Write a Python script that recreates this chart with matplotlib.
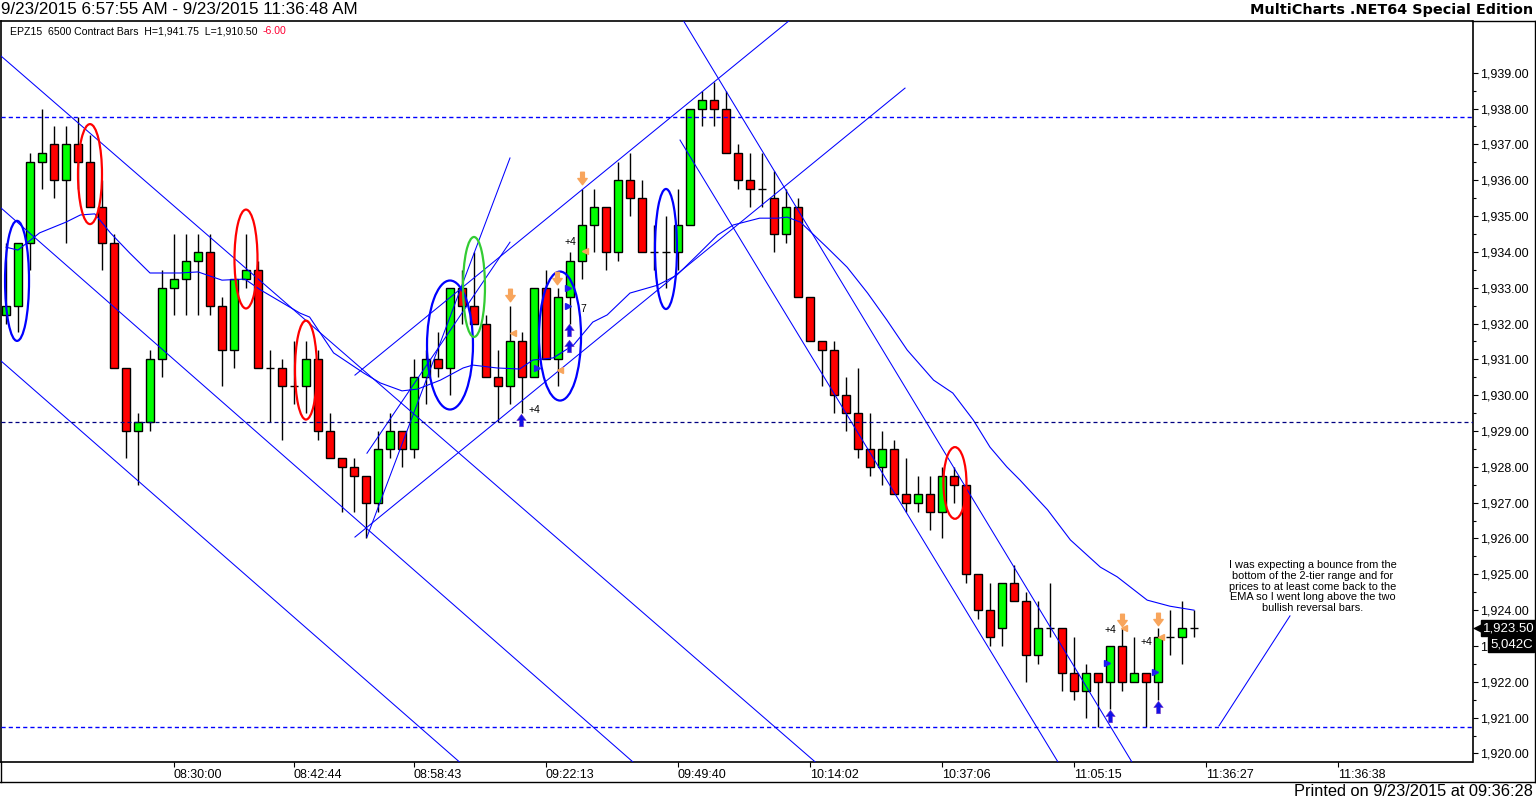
import matplotlib
matplotlib.use('Agg')
import matplotlib.pyplot as plt
import matplotlib.transforms as mtransforms
from matplotlib.patches import Ellipse
from matplotlib.path import Path
from matplotlib.lines import Line2D
from matplotlib.ticker import FuncFormatter, FixedLocator

plt.rcParams['font.family'] = ['Liberation Sans', 'DejaVu Sans']

# OHLC of the 6500 contract bars
opens = [1932.25, 1932.5, 1934.25, 1936.5, 1937.0, 1936.0, 1937.0, 1936.5, 1935.25, 1934.25,
         1930.75, 1929.0, 1929.25, 1931.0, 1933.0, 1933.25, 1933.75, 1934.0, 1932.5, 1931.25,
         1933.25, 1933.5, 1930.75, 1930.75, 1930.25, 1930.25, 1931.0, 1929.0, 1928.25, 1928.0,
         1927.75, 1927.0, 1928.5, 1929.0, 1928.5, 1930.5, 1931.0, 1930.75, 1933.0, 1932.5,
         1932.0, 1930.5, 1930.25, 1931.5, 1930.5, 1933.0, 1931.0, 1932.75, 1933.75, 1934.75,
         1935.25, 1934.0, 1936.0, 1935.5, 1934.0, 1934.0, 1934.0, 1934.75, 1938.0, 1938.25,
         1938.0, 1936.75, 1936.0, 1935.75, 1935.5, 1934.5, 1935.25, 1932.75, 1931.5, 1931.25,
         1930.0, 1929.5, 1928.5, 1928.0, 1928.5, 1927.25, 1927.0, 1927.25, 1926.75, 1927.75,
         1927.5, 1925.0, 1924.0, 1923.5, 1924.75, 1924.25, 1922.75, 1923.5, 1923.5, 1922.25,
         1921.75, 1922.25, 1922.0, 1923.0, 1922.0, 1922.25, 1922.0, 1923.25, 1923.25, 1923.5]
highs = [1934.25, 1934.25, 1936.75, 1938.0, 1937.5, 1937.5, 1937.75, 1937.25, 1936.0, 1934.5,
         1930.75, 1929.5, 1931.25, 1933.5, 1934.5, 1934.5, 1934.5, 1934.5, 1932.75, 1933.25,
         1934.5, 1933.75, 1931.25, 1931.0, 1931.5, 1931.5, 1931.25, 1929.5, 1928.25, 1928.25,
         1927.75, 1929.0, 1929.5, 1929.0, 1931.0, 1931.25, 1931.75, 1933.0, 1933.5, 1934.0,
         1932.25, 1931.25, 1932.5, 1931.75, 1933.0, 1933.5, 1933.0, 1934.0, 1935.75, 1935.75,
         1935.25, 1936.5, 1936.75, 1936.0, 1934.75, 1935.0, 1935.75, 1938.0, 1938.5, 1938.75,
         1938.5, 1937.0, 1936.75, 1936.75, 1936.25, 1935.75, 1935.5, 1932.75, 1931.5, 1931.5,
         1930.5, 1930.75, 1929.5, 1929.0, 1928.75, 1928.25, 1927.75, 1927.75, 1928.0, 1928.0,
         1927.5, 1925.0, 1924.75, 1924.75, 1925.25, 1924.5, 1924.25, 1924.75, 1923.5, 1923.25,
         1922.5, 1922.25, 1923.0, 1923.5, 1923.25, 1922.25, 1923.5, 1924.0, 1924.25, 1924.0]
lows = [1932.0, 1931.75, 1933.5, 1935.75, 1935.5, 1934.25, 1935.75, 1935.25, 1933.5, 1930.75,
        1928.25, 1927.5, 1929.0, 1930.5, 1932.25, 1932.25, 1932.25, 1932.25, 1930.25, 1930.75,
        1933.0, 1930.75, 1929.25, 1928.75, 1929.75, 1929.5, 1928.75, 1928.25, 1926.75, 1926.75,
        1926.0, 1926.75, 1928.25, 1928.0, 1928.25, 1929.75, 1930.5, 1930.0, 1932.0, 1932.0,
        1930.5, 1929.25, 1929.75, 1929.5, 1930.5, 1931.0, 1930.25, 1932.0, 1933.25, 1934.0,
        1933.5, 1933.75, 1935.0, 1934.0, 1933.5, 1933.0, 1933.5, 1934.75, 1937.5, 1937.5,
        1936.75, 1935.75, 1935.25, 1935.25, 1934.0, 1934.25, 1932.75, 1931.5, 1930.25, 1929.5,
        1929.0, 1928.25, 1927.75, 1927.5, 1927.25, 1926.75, 1926.75, 1926.25, 1926.0, 1927.0,
        1924.75, 1923.75, 1923.0, 1923.0, 1924.25, 1922.0, 1922.5, 1923.25, 1921.75, 1921.5,
        1921.0, 1920.75, 1921.25, 1921.75, 1922.0, 1920.75, 1921.5, 1922.75, 1922.5, 1923.25]
closes = [1932.5, 1934.25, 1936.5, 1936.75, 1936.0, 1937.0, 1936.5, 1935.25, 1934.25, 1930.75,
          1929.0, 1929.25, 1931.0, 1933.0, 1933.25, 1933.75, 1934.0, 1932.5, 1931.25, 1933.25,
          1933.5, 1930.75, 1930.75, 1930.25, 1930.25, 1931.0, 1929.0, 1928.25, 1928.0, 1927.75,
          1927.0, 1928.5, 1929.0, 1928.5, 1930.5, 1931.0, 1930.75, 1933.0, 1932.5, 1932.0,
          1930.5, 1930.25, 1931.5, 1930.5, 1933.0, 1931.0, 1932.75, 1933.75, 1934.75, 1935.25,
          1934.0, 1936.0, 1935.5, 1934.0, 1934.0, 1934.0, 1934.75, 1938.0, 1938.25, 1938.0,
          1936.75, 1936.0, 1935.75, 1935.75, 1934.5, 1935.25, 1932.75, 1931.5, 1931.25, 1930.0,
          1929.5, 1928.5, 1928.0, 1928.5, 1927.25, 1927.0, 1927.25, 1926.75, 1927.75, 1927.5,
          1925.0, 1924.0, 1923.25, 1924.75, 1924.25, 1922.75, 1923.5, 1923.5, 1922.25, 1921.75,
          1922.25, 1922.0, 1923.0, 1922.0, 1922.25, 1922.0, 1923.25, 1923.25, 1923.5, 1923.5]

# EMA line, read at some bar positions
ema_x = [0, 1, 2.8, 5, 6.2, 7.4, 8.7, 10.3, 12, 14.5, 16, 18, 19.9, 21.2, 24.5, 25.3, 27.3,
         29.8, 31.2, 33, 34.3, 36.2, 38.1, 38.9, 40.9, 42.8, 43.9, 45.6, 47.3, 48.9, 50.1, 52,
         54.3, 55.9, 57.8, 59.3, 60.6, 62.8, 64.3, 65.1, 66.2, 68.4, 70.1, 71.8, 73.4, 75.1,
         77.3, 78.9, 80.6, 82, 83.4, 84.5, 86.8, 88.7, 91.2, 92.6, 95.1, 97, 99]
ema_y = [1934.13, 1934.05, 1934.53, 1934.83, 1935.03, 1935.06, 1934.53, 1933.97, 1933.41,
         1933.41, 1933.44, 1933.21, 1933.24, 1932.94, 1932.29, 1932.18, 1931.18, 1930.62,
         1930.34, 1930.12, 1930.17, 1930.42, 1930.76, 1930.84, 1930.76, 1930.73, 1930.98,
         1931.04, 1931.4, 1932.04, 1932.24, 1932.85, 1933.07, 1933.35, 1933.97, 1934.47,
         1934.75, 1934.94, 1934.94, 1934.97, 1934.83, 1934.13, 1933.57, 1932.85, 1932.1,
         1931.26, 1930.42, 1930.06, 1929.31, 1928.55, 1928.0, 1927.63, 1926.8, 1925.96,
         1925.2, 1924.93, 1924.28, 1924.11, 1924.0]

# hand drawn trend lines: (bar0, price0, bar1, price1)
trendlines = [(-0.5, 1939.49, 68.0, 1919.6),
              (-0.5, 1935.25, 52.8, 1919.6),
              (-0.5, 1930.98, 37.8, 1919.76),
              (29.08, 1930.56, 65.33, 1940.47),
              (29.08, 1926.04, 74.92, 1938.57),
              (30.08, 1926.04, 42.0, 1936.62),
              (30.08, 1928.38, 42.0, 1934.27),
              (56.17, 1937.12, 87.67, 1919.76),
              (56.42, 1940.47, 93.83, 1919.76),
              (107.0, 1923.84, 101.08, 1920.77)]
hlines_blue = [1937.75, 1920.75]
hline_dark = 1929.25

# ellipses: (bar, price, width in bars, height in points, colour)
ellipses = [(0.92, 1933.19, 2.0, 3.35, '#0000FF'),
            (7.0, 1936.17, 2.0, 2.79, '#FF0000'),
            (20.0, 1933.8, 1.92, 2.76, '#FF0000'),
            (25.0, 1930.7, 1.83, 2.76, '#FF0000'),
            (37.0, 1931.4, 3.83, 3.6, '#0000FF'),
            (39.0, 1933.02, 1.83, 2.79, '#33CC33'),
            (46.17, 1931.65, 3.5, 3.6, '#0000FF'),
            (55.0, 1934.08, 1.83, 3.35, '#0000FF'),
            (79.08, 1927.55, 1.92, 2.0, '#FF0000')]

# signal markers
down_x = [42, 48, 45.9, 93, 96]
down_y = [1932.79, 1936.06, 1933.27, 1923.72, 1923.75]
up_x = [42.9, 46.9, 46.9, 92, 96]
up_y = [1929.3, 1931.82, 1931.37, 1921.05, 1921.3]
ltri_x = [42.25, 48.25, 93.2, 96.25, 46.2]
ltri_y = [1931.73, 1934.02, 1923.5, 1923.26, 1930.7]
rtri_x = [46.8, 46.8, 91.75, 95.75, 44.25]
rtri_y = [1933.0, 1932.5, 1922.52, 1922.27, 1930.76]
plus_x = [44, 47, 92, 95]
plus_y = [1929.58, 1934.27, 1923.45, 1923.1]

price_ticks = list(range(1920, 1940))
time_ticks = [14, 24, 34, 45, 56, 67, 78, 89, 100, 111]
time_labels = ['08:30:00', '08:42:44', '08:58:43', '09:22:13', '09:49:40',
               '10:14:02', '10:37:06', '11:05:15', '11:36:27', '11:36:38']

note = ("I was expecting a bounce from the\nbottom of the 2-tier range and for\n"
        "prices to at least come back to the\nEMA so I went long above the two\n"
        "bullish reversal bars.")

W, H = 1536, 801
fig = plt.figure(figsize=(W / 100, H / 100), dpi=100)
ax = fig.add_axes([0.5 / W, (H - 762) / H, 1472 / W, (762 - 20.5) / H])
ax.set_xlim(-0.458, 122.21)
ax.set_ylim(1919.762, 1940.457)

# candles
bw = 0.7
for i in range(len(opens)):
    o, h, l, c = opens[i], highs[i], lows[i], closes[i]
    ax.vlines(i, l, h, color='black', lw=1.0, zorder=2)
    if o == c:
        ax.hlines(c, i - bw / 2, i + bw / 2, color='black', lw=1.0, zorder=3)
    else:
        col = '#00FF00' if c > o else '#FF0000'
        ax.bar(i, abs(c - o), bottom=min(o, c), width=bw, color=col,
               edgecolor='black', linewidth=1.0, zorder=3)

ax.plot(ema_x, ema_y, color='#0000FF', lw=0.8, zorder=4)
for x0, y0, x1, y1 in trendlines:
    ax.plot([x0, x1], [y0, y1], color='#0000FF', lw=0.75, zorder=4)
for y in hlines_blue:
    ax.axhline(y, color='#0000FF', lw=1.0, ls=(0, (3.0, 2.2)), zorder=4)
ax.axhline(hline_dark, color='#000080', lw=0.9, ls=(0, (3.2, 2.4)), zorder=4)

for x, y, w, h, col in ellipses:
    ax.add_patch(Ellipse((x, y), w, h, fill=False, edgecolor=col, lw=1.6, zorder=5))

arrow_down = Path([(-0.3, 1), (0.3, 1), (0.3, 0), (0.75, 0), (0, -1), (-0.75, 0), (-0.3, 0), (-0.3, 1)],
                  [Path.MOVETO] + [Path.LINETO] * 6 + [Path.CLOSEPOLY])
arrow_up = Path([(-0.3, -1), (0.3, -1), (0.3, 0), (0.75, 0), (0, 1), (-0.75, 0), (-0.3, 0), (-0.3, -1)],
                [Path.MOVETO] + [Path.LINETO] * 6 + [Path.CLOSEPOLY])
ax.plot(down_x, down_y, ls='none', marker=arrow_down, ms=9, color='#F8A55C', zorder=6)
ax.plot(up_x, up_y, ls='none', marker=arrow_up, ms=9, color='#1010E8',
        markeredgecolor='#7030C0', markeredgewidth=0.4, zorder=6)
ax.plot(ltri_x, ltri_y, ls='none', marker='<', ms=4.5, color='#F8A55C', zorder=6)
ax.plot(rtri_x, rtri_y, ls='none', marker='>', ms=4.5, color='#2020F0', zorder=6)
for x, y in zip(plus_x, plus_y):
    ax.text(x, y, '+4', fontsize=7.5, ha='center', va='center', zorder=7)
ax.text(48.1, 1932.4, '7', fontsize=7.5, ha='center', va='center', zorder=7)

t_note = ax.text(108.9, 1925.4, note, fontsize=7.2, ha='center', va='top',
                 multialignment='center', linespacing=1.1, zorder=7)

# axes styling
for s in ['left', 'top', 'right', 'bottom']:
    ax.spines[s].set_linewidth(1.2)
ax.yaxis.tick_right()
ax.yaxis.set_major_locator(FixedLocator(price_ticks))
ax.yaxis.set_minor_locator(FixedLocator([p + 0.5 for p in price_ticks[:-1]]))
ax.yaxis.set_major_formatter(FuncFormatter(lambda v, p: '{:,.2f}'.format(v)))
ax.tick_params(axis='y', which='major', direction='out', length=3.6, width=0.8,
               pad=1.5, labelsize=9)
ax.tick_params(axis='y', which='minor', direction='out', length=2.2, width=0.8)
ax.set_xticks(time_ticks)
ax.set_xticklabels(time_labels)
ax.tick_params(axis='x', direction='out', length=3.5, width=0.8, pad=1.5, labelsize=9)
for lab in ax.get_xticklabels():
    lab.set_horizontalalignment('left')

# frame of the time band and the outer border
for (xa, ya, xb, yb) in [(1472, 20.5, W, 20.5), (0, 782, W, 782), (W - 1, 20.5, W - 1, 782),
                         (0.5, 762, 0.5, 782)]:
    fig.add_artist(Line2D([xa / W, xb / W], [1 - ya / H, 1 - yb / H], color='black', lw=1.0))

# last price markers
bt = mtransforms.blended_transform_factory(fig.transFigure, ax.transData)
last = closes[-1]
fig.text(1483 / W, last, '{:,.2f}'.format(last), transform=bt, fontsize=9.5, color='white',
         va='center', ha='left', zorder=10,
         bbox=dict(boxstyle='square,pad=0.12', facecolor='black', edgecolor='black'))
fig.add_artist(Line2D([1479 / W], [last], transform=bt, marker='<', ms=7, color='black',
                      ls='none', zorder=10))
fig.text(1490 / W, last - 0.45, '5,042C', transform=bt, fontsize=9.5, color='white',
         va='center', ha='left', zorder=10,
         bbox=dict(boxstyle='square,pad=0.12', facecolor='black', edgecolor='black'))

# header, info line, footer
t_head = fig.text(1 / W, 1 - 10 / H, '9/23/2015 6:57:55 AM - 9/23/2015 11:36:48 AM',
                  fontsize=12, va='center', ha='left')
t_brand = fig.text(1533 / W, 1 - 10 / H, 'MultiCharts .NET64 Special Edition',
                   fontsize=11, fontweight='bold', family=['DejaVu Sans'], va='center', ha='right')
t_foot = fig.text(1533 / W, 1 - 792 / H, 'Printed on 9/23/2015 at 09:36:28',
                  fontsize=12, va='center', ha='right')
t_info = fig.text(10 / W, 1 - 31 / H, 'EPZ15  6500 Contract Bars  H=1,941.75  L=1,910.50',
                  fontsize=6.8, va='center', ha='left')

r = fig.canvas.get_renderer()
for t, target in [(t_head, 355), (t_brand, 280), (t_foot, 239), (t_note, 168), (t_info, 247)]:
    w = t.get_window_extent(renderer=r).width
    t.set_fontsize(t.get_fontsize() * target / w)

# red change value just after the info text
ext = t_info.get_window_extent(renderer=r)
fig.text((ext.x1 + 5) / W, 1 - 31 / H, '-6.00', fontsize=t_info.get_fontsize(),
         color='#FF0033', va='center', ha='left')

fig.savefig('out.png', dpi=100)
